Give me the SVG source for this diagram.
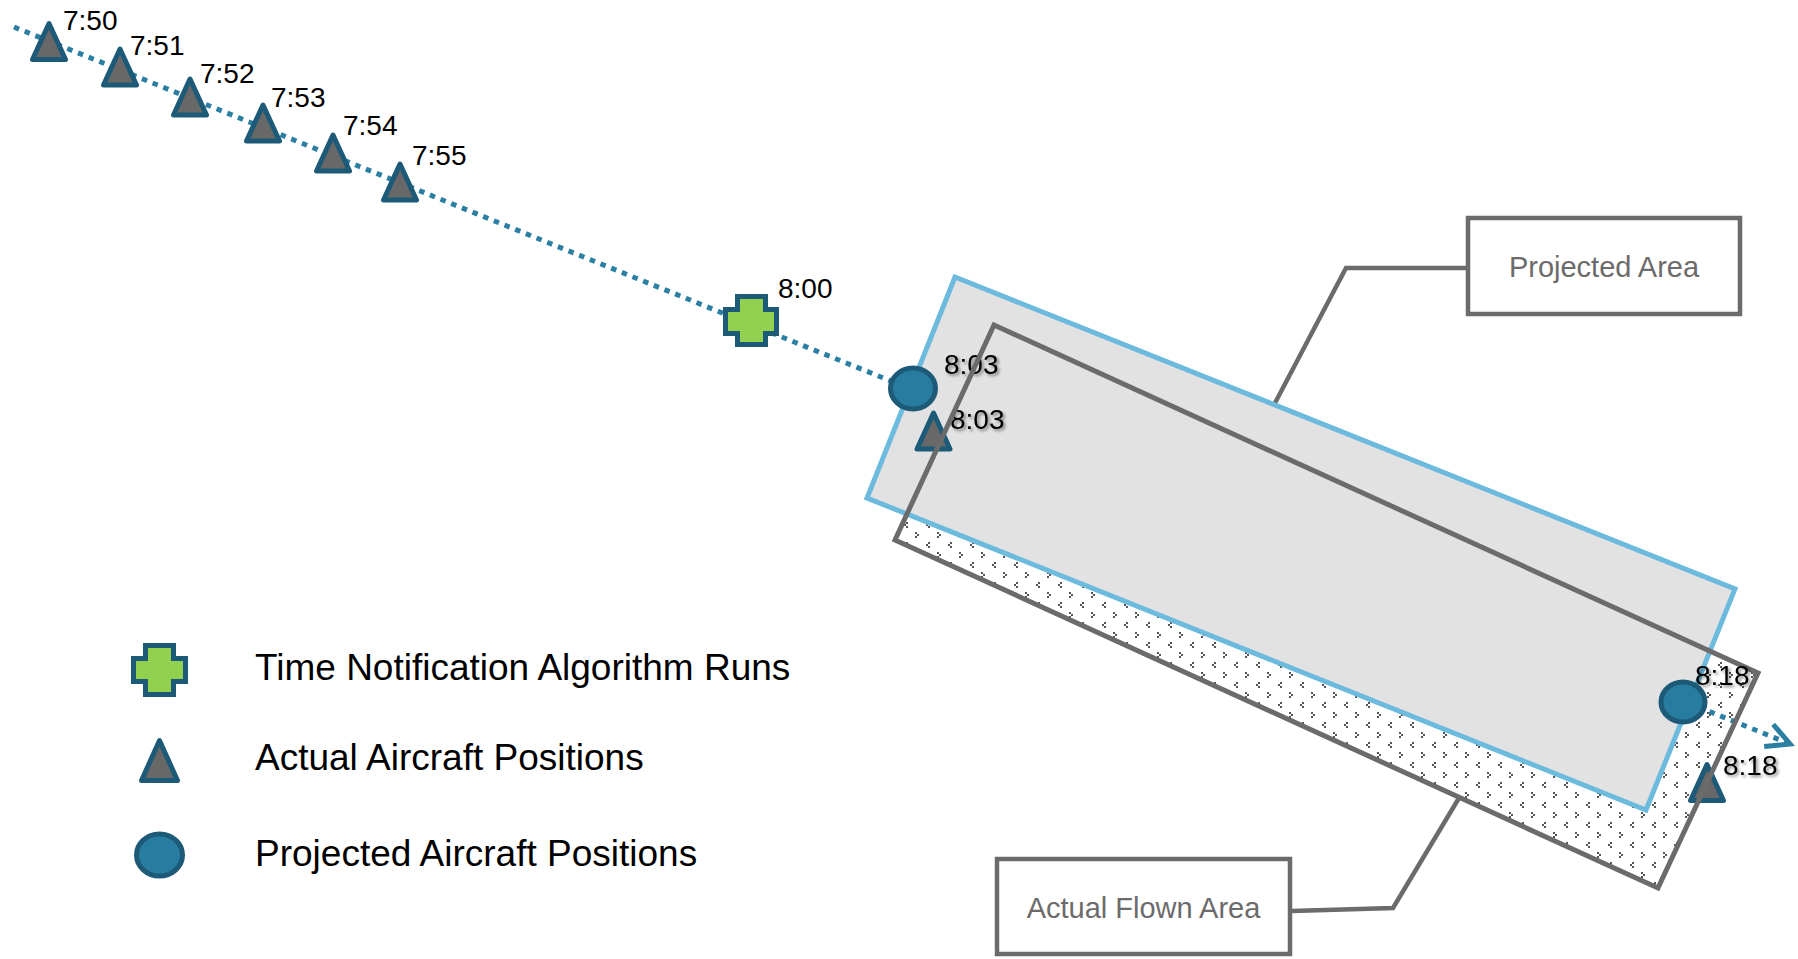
<svg xmlns="http://www.w3.org/2000/svg" xmlns:xlink="http://www.w3.org/1999/xlink" width="1798" height="959" viewBox="0 0 1798 959">
<style>
.tri{fill:#686868;stroke:#1c5a77;stroke-width:5;stroke-linejoin:round}
.circ{fill:#287ca0;stroke:#1c5a77;stroke-width:5}
.plus{fill:#92d050;stroke:#1c5a77;stroke-width:5;stroke-linejoin:miter}
.lbl{font-family:"Liberation Sans",Arial,sans-serif;font-size:28px;fill:#000}
.sh{filter:url(#shadow)}
.leg{font-family:"Liberation Sans",Arial,sans-serif;font-size:37px;fill:#000}
.box{fill:#fff;stroke:#6b6b6b;stroke-width:4.5}
.boxt{font-family:"Liberation Sans",Arial,sans-serif;font-size:29px;fill:#6b6b6b;text-anchor:middle}
.call{fill:none;stroke:#6b6b6b;stroke-width:4.5;stroke-linejoin:miter}
.path{fill:none;stroke:#2a7fa3;stroke-width:5;stroke-dasharray:5.5 6}
</style>
<defs>
<filter id="shadow" x="-20%" y="-30%" width="150%" height="170%">
<feDropShadow dx="2" dy="2" stdDeviation="1.5" flood-color="#000" flood-opacity="0.45"/>
</filter>
<pattern id="dots" patternUnits="userSpaceOnUse" width="22" height="20">
<rect width="22" height="20" fill="#fff"/>
<g fill="#555">
<rect x="4" y="2" width="2" height="2"/><rect x="2" y="4" width="2" height="2"/><rect x="4" y="6" width="2" height="2"/>
<rect x="13" y="12" width="2" height="2"/><rect x="15" y="14" width="2" height="2"/><rect x="13" y="16" width="2" height="2"/>
</g>
</pattern>
<path id="triShape" d="M0,-18 L16.5,18 L-16.5,18 Z"/>
<marker id="arrow" markerUnits="userSpaceOnUse" markerWidth="32" markerHeight="32" viewBox="0 0 32 32" refX="26" refY="14" orient="auto">
<path d="M3,2 L26,14 L3,26" fill="none" stroke="#2a7fa3" stroke-width="5"/>
</marker>
</defs>

<rect width="1798" height="959" fill="#fff"/>

<g id="actual-flown-area-fill">
<polygon points="994,325 1758,673 1658,888 895,540" fill="url(#dots)"/>
</g>

<g id="connectors">
<line class="path" x1="14" y1="27" x2="1790" y2="744" marker-end="url(#arrow)"/>
<polyline class="call" points="1466,268 1346,268 1275,403"/>
<polyline class="call" points="1292,911 1393,908 1459,798"/>
</g>

<g id="projected-area">
<polygon points="955,277 1735,589 1646,810 867,498" fill="#e2e2e2" stroke="#6cbadd" stroke-width="5" stroke-linejoin="miter"/>
</g>

<g id="t750"><use href="#triShape" class="tri" transform="translate(49,41.5)"/><text class="lbl" x="63" y="30">7:50</text></g>
<g id="t751"><use href="#triShape" class="tri" transform="translate(120,67)"/><text class="lbl" x="130" y="55">7:51</text></g>
<g id="t752"><use href="#triShape" class="tri" transform="translate(190,97)"/><text class="lbl" x="200" y="83">7:52</text></g>
<g id="t753"><use href="#triShape" class="tri" transform="translate(263,123)"/><text class="lbl" x="271" y="107">7:53</text></g>
<g id="t754"><use href="#triShape" class="tri" transform="translate(333,153)"/><text class="lbl" x="343" y="135">7:54</text></g>
<g id="t755"><use href="#triShape" class="tri" transform="translate(400,182)"/><text class="lbl" x="412" y="165">7:55</text></g>

<g id="run800">
<path class="plus" d="M737.5,296.5 H765.5 V309.5 H776.5 V333.5 H765.5 V344.5 H737.5 V333.5 H725.5 V309.5 H737.5 Z"/>
<text class="lbl" x="778" y="298">8:00</text>
</g>

<g id="p803">
<ellipse class="circ" cx="913" cy="388.5" rx="22.5" ry="20.5"/>
<text class="lbl sh" x="944" y="374">8:03</text>
</g>
<g id="t803">
<use href="#triShape" class="tri" transform="translate(933.5,431)"/>
<text class="lbl sh" x="950" y="429">8:03</text>
</g>

<g id="p818">
<ellipse class="circ" cx="1683" cy="702" rx="22" ry="20"/>
</g>
<g id="t818">
<use href="#triShape" class="tri" transform="translate(1707,782.5)"/>
</g>

<g id="actual-flown-area-outline">
<polygon points="994,325 1758,673 1658,888 895,540" fill="none" stroke="#6b6b6b" stroke-width="5" stroke-linejoin="miter"/>
</g>

<g id="labels818">
<text class="lbl sh" x="1695" y="685">8:18</text>
<text class="lbl sh" x="1723" y="775">8:18</text>
</g>

<g id="projected-area-label">
<rect class="box" x="1468" y="218" width="272" height="96"/>
<text class="boxt" x="1604" y="277">Projected Area</text>
</g>

<g id="actual-flown-area-label">
<rect class="box" x="997" y="859" width="293" height="95"/>
<text class="boxt" x="1143.5" y="918">Actual Flown Area</text>
</g>

<g id="legend-run">
<path class="plus" d="M145.5,645.5 H173.5 V658.5 H185.5 V681.5 H173.5 V694.5 H145.5 V681.5 H133.5 V658.5 H145.5 Z"/>
<text class="leg" x="255" y="680">Time Notification Algorithm Runs</text>
</g>
<g id="legend-actual">
<path class="tri" d="M159.5,740.5 L177.5,780.5 L141.5,780.5 Z"/>
<text class="leg" x="255" y="770">Actual Aircraft Positions</text>
</g>
<g id="legend-projected">
<ellipse class="circ" cx="159.5" cy="855" rx="23" ry="21"/>
<text class="leg" x="255" y="866">Projected Aircraft Positions</text>
</g>
</svg>
